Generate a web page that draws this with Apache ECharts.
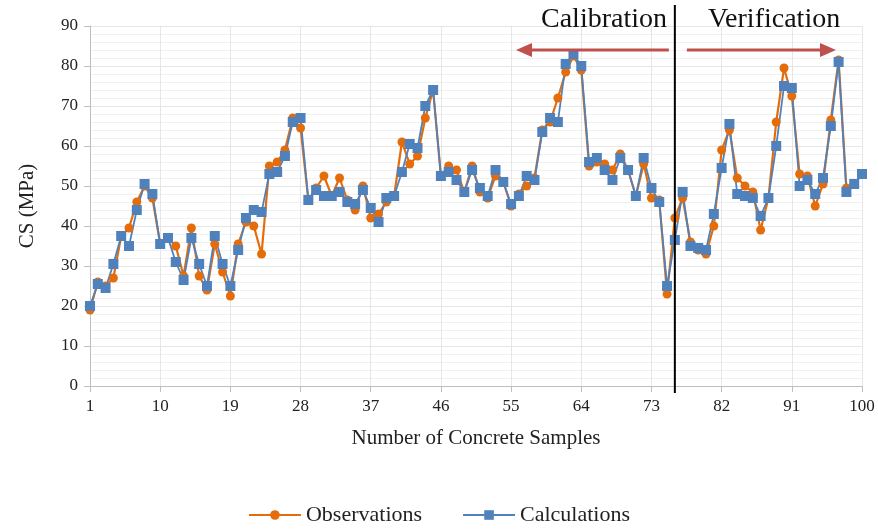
<!DOCTYPE html>
<html>
<head>
<meta charset="utf-8">
<script src="https://cdn.jsdelivr.net/npm/echarts@6/dist/echarts.min.js"></script>
<style>html,body{margin:0;padding:0;background:#fff}#c{width:878px;height:531px}</style>
</head>
<body>
<div id="c"></div>
<script>
var observations = [19,26,25,27,37.5,39.5,46,50,47,35.5,37,35,27.5,39.5,27.5,24,35.5,28.5,22.5,35.5,
  41,40,33,55,56,59,67,64.5,46.5,49.5,52.5,47.5,52,46.5,44,50,42,43,46,47.5,
  61,55.5,57.5,67,74,52.5,55,54,48.5,55,48.5,47,52.5,51,45,48,50,52,64,66,
  72,78.5,82.5,79,55,56,55.5,54,58,54,47.5,55.5,47,46.5,23,42,47,36,34,33,
  40,59,64,52,50,48.5,39,47,66,79.5,72.5,53,52.5,45,50.5,66.5,81.5,49.5,50.5,53];
var calculations = [20,25.5,24.5,30.5,37.5,35,44,50.5,48,35.5,37,31,26.5,37,30.5,25,37.5,30.5,25,34,
  42,44,43.5,53,53.5,57.5,66,67,46.5,49,47.5,47.5,48.5,46,45.5,49,44.5,41,47,47.5,
  53.5,60.5,59.5,70,74,52.5,53.5,51.5,48.5,54,49.5,47.5,54,51,45.5,47.5,52.5,51.5,63.5,67,
  66,80.5,83,80,56,57,54,51.5,57,54,47.5,57,49.5,46,25,36.5,48.5,35,34.5,34,
  43,54.5,65.5,48,47.5,47,42.5,47,60,75,74.5,50,51.5,48,52,65,81,48.5,50.5,53];
var splitAt = 76;

function pairs(a){ return a.map(function(v,i){ return [i+1, v]; }); }
var font = 'Liberation Serif';

var chart = echarts.init(document.getElementById('c'));
chart.setOption({
  animation: false,
  textStyle: {fontFamily: font},
  grid: {left: 90, right: 16, top: 26, bottom: 145},
  legend: {
    bottom: 0, left: 'center', itemGap: 40, itemWidth: 52, itemHeight: 12,
    textStyle: {fontFamily: font, fontSize: 22, color: '#222'},
    data: ['Observations', 'Calculations']
  },
  xAxis: {
    type: 'value', min: 1, max: 100, interval: 9,
    name: 'Number of Concrete Samples', nameLocation: 'middle', nameGap: 42,
    nameTextStyle: {fontFamily: font, fontSize: 21, color: '#222'},
    axisLine: {lineStyle: {color: '#bfbfbf'}},
    axisTick: {show: true, length: 6, lineStyle: {color: '#bfbfbf'}},
    axisLabel: {fontFamily: font, fontSize: 17, color: '#222', margin: 12},
    splitLine: {show: true, lineStyle: {color: '#e6e6e6'}}
  },
  yAxis: {
    type: 'value', min: 0, max: 90, interval: 10,
    name: 'CS (MPa)', nameLocation: 'middle', nameGap: 52,
    nameTextStyle: {fontFamily: font, fontSize: 21, color: '#222'},
    axisLine: {show: true, lineStyle: {color: '#bfbfbf'}},
    axisTick: {show: true, length: 6, lineStyle: {color: '#bfbfbf'}},
    axisLabel: {fontFamily: font, fontSize: 17, color: '#222', margin: 12},
    splitLine: {lineStyle: {color: '#e6e6e6'}},
    minorTick: {show: false, splitNumber: 5},
    minorSplitLine: {show: true, lineStyle: {color: '#f0f0f0'}}
  },
  series: [
    {
      name: 'Observations', type: 'line', data: pairs(observations),
      symbol: 'circle', symbolSize: 9,
      itemStyle: {color: '#E46C0A'}, lineStyle: {color: '#E46C0A', width: 2.2}
    },
    {
      name: 'Calculations', type: 'line', data: pairs(calculations),
      symbol: 'rect', symbolSize: 10,
      itemStyle: {color: '#4F81BD'}, lineStyle: {color: '#4F81BD', width: 1.8}
    }
  ]
});

var sx = chart.convertToPixel({gridIndex: 0}, [splitAt, 0])[0];
chart.setOption({
  graphic: [
    {type: 'line', z: 60, shape: {x1: sx, y1: 5, x2: sx, y2: 393}, style: {stroke: '#000', lineWidth: 2}},
    {type: 'text', left: 541, top: 6, z: 60, style: {text: 'Calibration', font: '28px "Liberation Serif"', fill: '#111'}},
    {type: 'text', left: 708, top: 6, z: 60, style: {text: 'Verification', font: '28px "Liberation Serif"', fill: '#111'}},
    {type: 'line', z: 60, shape: {x1: sx - 6, y1: 50, x2: 530, y2: 50}, style: {stroke: '#C0504D', lineWidth: 3}},
    {type: 'polygon', z: 60, shape: {points: [[516, 50], [532, 43], [532, 57]]}, style: {fill: '#C0504D'}},
    {type: 'line', z: 60, shape: {x1: sx + 12, y1: 50, x2: 822, y2: 50}, style: {stroke: '#C0504D', lineWidth: 3}},
    {type: 'polygon', z: 60, shape: {points: [[836, 50], [820, 43], [820, 57]]}, style: {fill: '#C0504D'}}
  ]
});
</script>
</body>
</html>
